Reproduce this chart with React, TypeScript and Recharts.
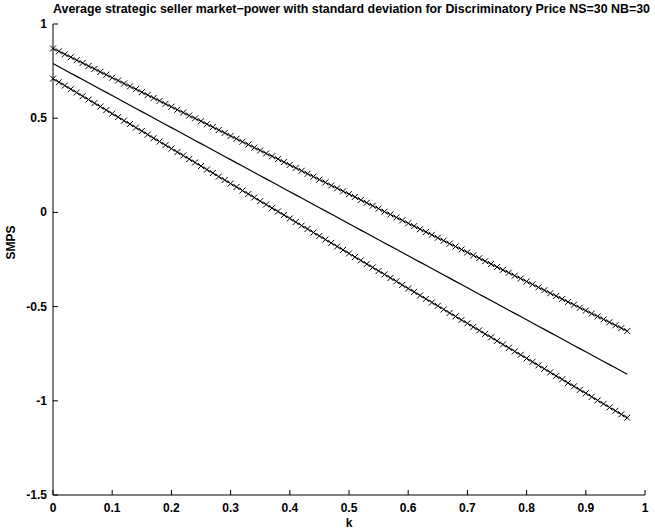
import React from 'react';
import { LineChart, Line, XAxis, YAxis } from 'recharts';

const K = [
  0, 0.01, 0.02, 0.03, 0.04, 0.05, 0.06, 0.07, 0.08, 0.09,
  0.1, 0.11, 0.12, 0.13, 0.14, 0.15, 0.16, 0.17, 0.18, 0.19,
  0.2, 0.21, 0.22, 0.23, 0.24, 0.25, 0.26, 0.27, 0.28, 0.29,
  0.3, 0.31, 0.32, 0.33, 0.34, 0.35, 0.36, 0.37, 0.38, 0.39,
  0.4, 0.41, 0.42, 0.43, 0.44, 0.45, 0.46, 0.47, 0.48, 0.49,
  0.5, 0.51, 0.52, 0.53, 0.54, 0.55, 0.56, 0.57, 0.58, 0.59,
  0.6, 0.61, 0.62, 0.63, 0.64, 0.65, 0.66, 0.67, 0.68, 0.69,
  0.7, 0.71, 0.72, 0.73, 0.74, 0.75, 0.76, 0.77, 0.78, 0.79,
  0.8, 0.81, 0.82, 0.83, 0.84, 0.85, 0.86, 0.87, 0.88, 0.89,
  0.9, 0.91, 0.92, 0.93, 0.94, 0.95, 0.96, 0.97,
];

// mean + std
const UPPER = [
  0.870, 0.855, 0.839, 0.824, 0.808, 0.793, 0.777, 0.762, 0.746, 0.731,
  0.715, 0.700, 0.684, 0.669, 0.654, 0.638, 0.623, 0.607, 0.592, 0.576,
  0.561, 0.545, 0.530, 0.514, 0.499, 0.484, 0.468, 0.453, 0.437, 0.422,
  0.406, 0.391, 0.375, 0.360, 0.344, 0.329, 0.313, 0.298, 0.283, 0.267,
  0.252, 0.236, 0.221, 0.205, 0.190, 0.174, 0.159, 0.143, 0.128, 0.112,
  0.097, 0.082, 0.066, 0.051, 0.035, 0.020, 0.004, -0.011, -0.027, -0.042,
  -0.058, -0.073, -0.089, -0.104, -0.119, -0.135, -0.150, -0.166, -0.181, -0.197,
  -0.212, -0.228, -0.243, -0.259, -0.274, -0.290, -0.305, -0.320, -0.336, -0.351,
  -0.367, -0.382, -0.398, -0.413, -0.429, -0.444, -0.460, -0.475, -0.490, -0.506,
  -0.521, -0.537, -0.552, -0.568, -0.583, -0.599, -0.614, -0.630,
];

const MEAN = [
  0.790, 0.773, 0.756, 0.739, 0.722, 0.705, 0.688, 0.671, 0.654, 0.637,
  0.620, 0.603, 0.586, 0.569, 0.552, 0.535, 0.518, 0.501, 0.484, 0.467,
  0.450, 0.433, 0.416, 0.399, 0.382, 0.365, 0.348, 0.331, 0.314, 0.297,
  0.280, 0.263, 0.246, 0.229, 0.212, 0.195, 0.178, 0.161, 0.144, 0.127,
  0.110, 0.093, 0.076, 0.059, 0.042, 0.025, 0.008, -0.009, -0.026, -0.043,
  -0.060, -0.077, -0.094, -0.111, -0.128, -0.145, -0.162, -0.179, -0.196, -0.213,
  -0.230, -0.247, -0.264, -0.281, -0.298, -0.315, -0.332, -0.349, -0.366, -0.383,
  -0.400, -0.417, -0.434, -0.451, -0.468, -0.485, -0.502, -0.519, -0.536, -0.553,
  -0.570, -0.587, -0.604, -0.621, -0.638, -0.655, -0.672, -0.689, -0.706, -0.723,
  -0.740, -0.757, -0.774, -0.791, -0.808, -0.825, -0.842, -0.859,
];

// mean - std
const LOWER = [
  0.710, 0.691, 0.673, 0.654, 0.636, 0.617, 0.599, 0.580, 0.562, 0.543,
  0.524, 0.506, 0.487, 0.469, 0.450, 0.432, 0.413, 0.394, 0.376, 0.357,
  0.339, 0.320, 0.302, 0.283, 0.265, 0.246, 0.227, 0.209, 0.190, 0.172,
  0.153, 0.135, 0.116, 0.098, 0.079, 0.060, 0.042, 0.023, 0.005, -0.014,
  -0.032, -0.051, -0.070, -0.088, -0.107, -0.125, -0.144, -0.162, -0.181, -0.199,
  -0.218, -0.237, -0.255, -0.274, -0.292, -0.311, -0.329, -0.348, -0.366, -0.385,
  -0.404, -0.422, -0.441, -0.459, -0.478, -0.496, -0.515, -0.534, -0.552, -0.571,
  -0.589, -0.608, -0.626, -0.645, -0.663, -0.682, -0.701, -0.719, -0.738, -0.756,
  -0.775, -0.793, -0.812, -0.830, -0.849, -0.868, -0.886, -0.905, -0.923, -0.942,
  -0.960, -0.979, -0.998, -1.016, -1.035, -1.053, -1.072, -1.090,
];

const X_TICKS = [0, 0.1, 0.2, 0.3, 0.4, 0.5, 0.6, 0.7, 0.8, 0.9, 1];
const Y_TICKS = [-1.5, -1, -0.5, 0, 0.5, 1];

const data = K.map((k, i) => ({ k, upper: UPPER[i], mean: MEAN[i], lower: LOWER[i] }));

const FONT = '"Liberation Sans", Arial, sans-serif';
const TICK = 5;

const Cross = (props: any) => {
  const { cx, cy } = props;
  if (cx == null || cy == null) return null;
  const s = 3;
  return (
    <path
      d={`M${cx - s},${cy - s}L${cx + s},${cy + s}M${cx - s},${cy + s}L${cx + s},${cy - s}`}
      stroke="#000"
      strokeWidth={1}
      fill="none"
    />
  );
};

const BottomTick = (props: any) => {
  const { x, y, payload } = props;
  return (
    <g>
      <line x1={x} y1={y} x2={x} y2={y - TICK} stroke="#000" />
      <text x={x} y={y + 17} textAnchor="middle" fontSize={12} fontWeight="bold" fontFamily={FONT} fill="#000">
        {String(payload.value)}
      </text>
    </g>
  );
};

const TopTick = (props: any) => {
  const { x, y } = props;
  return <line x1={x} y1={y} x2={x} y2={y + TICK} stroke="#000" />;
};

const LeftTick = (props: any) => {
  const { x, y, payload } = props;
  return (
    <g>
      <line x1={x} y1={y} x2={x + TICK} y2={y} stroke="#000" />
      <text x={x - 6} y={y + 4} textAnchor="end" fontSize={12} fontWeight="bold" fontFamily={FONT} fill="#000">
        {String(payload.value)}
      </text>
    </g>
  );
};

const RightTick = (props: any) => {
  const { x, y } = props;
  return <line x1={x} y1={y} x2={x - TICK} y2={y} stroke="#000" />;
};

export default function App() {
  return (
    <div style={{ position: 'absolute', left: 0, top: 0, width: 655, height: 530, background: '#fff' }}>
      <div
        style={{
          position: 'absolute',
          left: 53,
          top: 2,
          fontFamily: FONT,
          fontWeight: 'bold',
          fontSize: 12.4,
          whiteSpace: 'nowrap',
          color: '#000',
        }}
      >
        Average strategic seller market−power with standard deviation for Discriminatory Price NS=30 NB=30
      </div>
      <LineChart width={655} height={530} data={data} margin={{ top: 24, right: 10, bottom: 0, left: 0 }}>
        <XAxis
          xAxisId="b"
          dataKey="k"
          type="number"
          domain={[0, 1]}
          ticks={X_TICKS}
          height={35}
          tickSize={0}
          tickMargin={0}
          tickLine={false}
          axisLine={{ stroke: '#000' }}
          tick={<BottomTick />}
          interval={0}
          label={{ value: 'k', position: 'insideBottom', offset: 3, fontSize: 12, fontWeight: 'bold', fontFamily: FONT, fill: '#000' }}
        />
        <XAxis
          xAxisId="t"
          orientation="top"
          dataKey="k"
          type="number"
          domain={[0, 1]}
          ticks={X_TICKS}
          height={0}
          tickSize={0}
          tickMargin={0}
          tickLine={false}
          axisLine={{ stroke: '#000' }}
          tick={<TopTick />}
          interval={0}
        />
        <YAxis
          yAxisId="l"
          type="number"
          domain={[-1.5, 1]}
          ticks={Y_TICKS}
          width={53}
          tickSize={0}
          tickMargin={0}
          tickLine={false}
          axisLine={{ stroke: '#000' }}
          tick={<LeftTick />}
          interval={0}
          label={{ value: 'SMPS', angle: -90, position: 'insideLeft', offset: 11, fontSize: 12, fontWeight: 'bold', fontFamily: FONT, fill: '#000' }}
        />
        <YAxis
          yAxisId="r"
          orientation="right"
          type="number"
          domain={[-1.5, 1]}
          ticks={Y_TICKS}
          width={0}
          tickSize={0}
          tickMargin={0}
          tickLine={false}
          axisLine={{ stroke: '#000' }}
          tick={<RightTick />}
          interval={0}
        />
        <Line xAxisId="b" yAxisId="l" dataKey="upper" stroke="#000" strokeWidth={1} dot={<Cross />} isAnimationActive={false} />
        <Line xAxisId="b" yAxisId="l" dataKey="mean" stroke="#000" strokeWidth={1.2} dot={false} isAnimationActive={false} />
        <Line xAxisId="b" yAxisId="l" dataKey="lower" stroke="#000" strokeWidth={1} dot={<Cross />} isAnimationActive={false} />
      </LineChart>
    </div>
  );
}
